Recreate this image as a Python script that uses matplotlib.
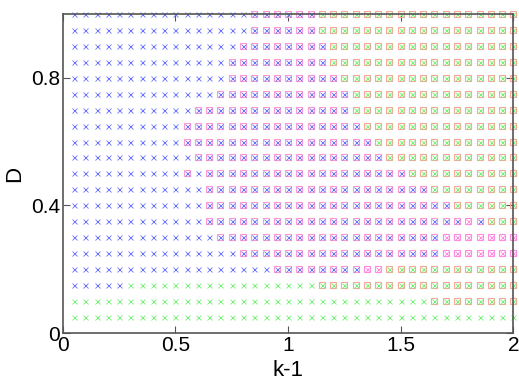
import matplotlib
matplotlib.use("Agg")
import matplotlib.pyplot as plt
import numpy as np

plt.rcParams['font.family'] = ['Liberation Sans', 'DejaVu Sans']

# grid of (k-1, D) sample points
k_vals = [0.05 * (i + 1) for i in range(40)]
D_vals = [0.05 * (j + 1) for j in range(20)][::-1]   # top row first

# regime of each point, rows from D=1.0 down to D=0.05
# b: blue x, g: green x, m: magenta square + blue x,
# r: red square + green x, p: magenta square + magenta x
regime = [
    "b" * 16 + "m" * 6 + "r" * 18,
    "b" * 16 + "m" * 6 + "r" * 18,
    "b" * 15 + "m" * 8 + "r" * 17,
    "b" * 14 + "m" * 9 + "r" * 17,
    "b" * 14 + "m" * 10 + "r" * 16,
    "b" * 13 + "m" * 12 + "r" * 15,
    "b" * 11 + "m" * 14 + "r" * 15,
    "b" * 10 + "m" * 16 + "r" * 14,
    "b" * 10 + "m" * 17 + "r" * 13,
    "b" * 11 + "m" * 17 + "r" * 12,
    "b" * 10 + "m" + "b" + "m" * 18 + "r" * 10,
    "b" * 12 + "m" * 20 + "r" * 8,
    "b" * 12 + "m" * 22 + "r" * 6,
    "b" * 12 + "m" * 23 + "p" + "m" + "r" * 3,
    "b" * 13 + "m" * 20 + "p" * 7,
    "b" * 15 + "m" * 18 + "p" * 7,
    "b" * 18 + "m" * 8 + "p" * 2 + "r" * 12,
    "b" * 5 + "g" * 17 + "r" * 18,
    "g" * 32 + "r" * 8,
    "g" * 40,
]

fig = plt.figure(figsize=(5.19, 3.85), dpi=100)
ax = fig.add_axes([0.121, 0.135, 0.868, 0.829])

blue = (0.4, 0.45, 1.0)
green = (0.45, 0.95, 0.45)
mag = (1.0, 0.6, 0.82)
red = (0.97, 0.65, 0.6)
pink = (1.0, 0.55, 0.88)

def pts(code):
    xs, ys = [], []
    for j, row in enumerate(regime):
        for i, c in enumerate(row):
            if c == code:
                xs.append(k_vals[i])
                ys.append(D_vals[j])
    return np.array(xs), np.array(ys)

sq = dict(marker='s', ls='none', ms=4.6, mfc='none', mew=0.8, clip_on=False)
xx = dict(marker='x', ls='none', ms=3.6, mew=0.6, clip_on=False)

x, y = pts('m')
ax.plot(x, y, mec=mag, **sq)
ax.plot(x, y, mec=blue, **xx)
x, y = pts('r')
ax.plot(x, y, mec=red, **sq)
ax.plot(x, y, mec=green, **xx)
x, y = pts('p')
ax.plot(x, y, mec=pink, **sq)
ax.plot(x, y, mec=pink, **xx)
x, y = pts('b')
ax.plot(x, y, mec=blue, **xx)
x, y = pts('g')
ax.plot(x, y, mec=green, **xx)

ax.set_xlim(0, 2)
ax.set_ylim(0, 1)
ax.set_xticks([0, 0.5, 1, 1.5, 2])
ax.set_xticklabels(['0', '0.5', '1', '1.5', '2'])
ax.set_yticks([0, 0.4, 0.8])
ax.set_yticklabels(['0', '0.4', '0.8'])
ax.tick_params(direction='in', top=True, right=True, length=5, width=0.8,
               color='#555555', labelsize=15, pad=2)
for s in ax.spines.values():
    s.set_color('#555555')
    s.set_linewidth(1.2)
ax.set_xlabel('k-1', fontsize=16, labelpad=4)
ax.set_ylabel('D', fontsize=16, labelpad=4)

fig.savefig('out.png', dpi=100)
